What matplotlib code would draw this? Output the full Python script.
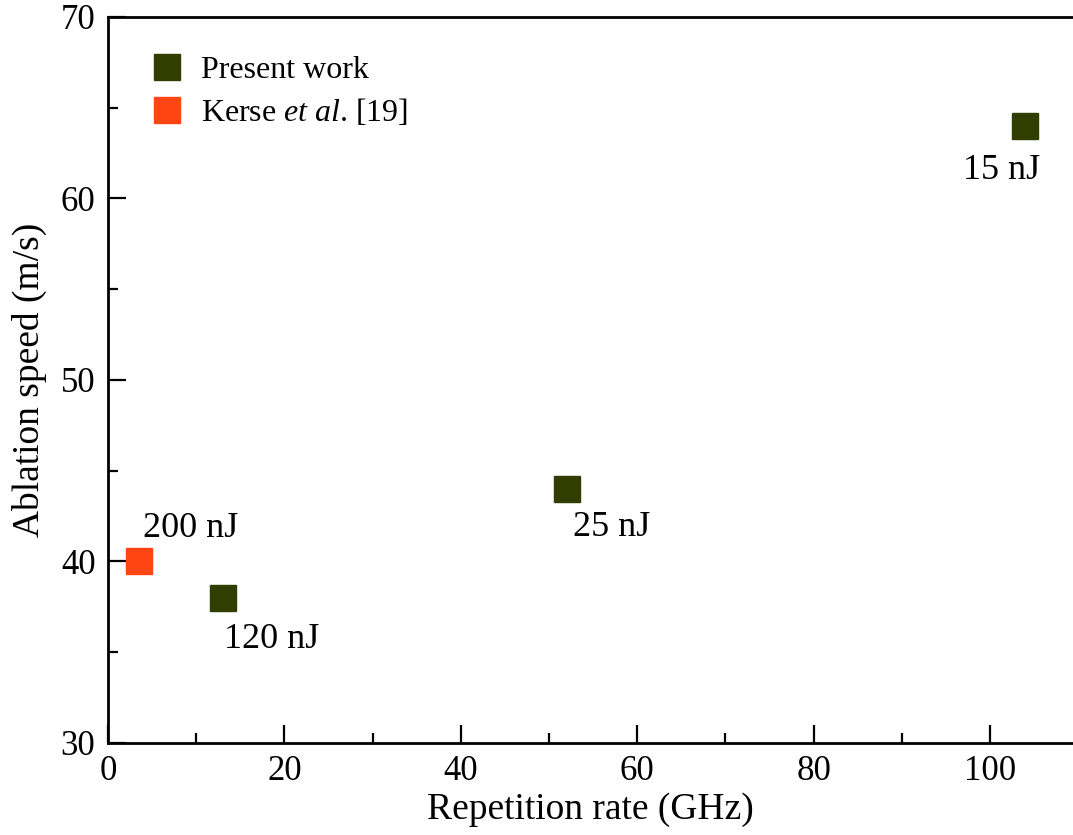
import matplotlib
matplotlib.use("Agg")
import matplotlib.pyplot as plt
from matplotlib.ticker import MultipleLocator

plt.rcParams['font.family'] = ['Liberation Serif', 'DejaVu Serif']
plt.rcParams['mathtext.fontset'] = 'custom'
plt.rcParams['mathtext.rm'] = 'Liberation Serif'
plt.rcParams['mathtext.it'] = 'Liberation Serif:italic'

# Data
present_rate = [13, 52, 104]
present_speed = [38, 44, 64]
present_labels = ["120 nJ", "25 nJ", "15 nJ"]
kerse_rate = [3.5]
kerse_speed = [40]
kerse_labels = ["200 nJ"]

present_color = "#323d00"
kerse_color = "#ff4512"

fig = plt.figure(figsize=(10.73, 8.35), dpi=100)
ax = fig.add_axes([108/1073, 92/835, 1 - 108/1073, 726/835])

ax.plot(present_rate, present_speed, linestyle='none', marker='s', markersize=19,
        color=present_color, label='Present work')
ax.plot(kerse_rate, kerse_speed, linestyle='none', marker='s', markersize=19,
        color=kerse_color, label=r'Kerse $\it{et\ al}$. [19]')

offsets_present = [(35, -30), (32, -28), (-17, -32)]
for x, y, t, off in zip(present_rate, present_speed, present_labels, offsets_present):
    ax.annotate(t, (x, y), xytext=off, textcoords='offset points',
                ha='center', va='center', fontsize=26)
for x, y, t in zip(kerse_rate, kerse_speed, kerse_labels):
    ax.annotate(t, (x, y), xytext=(37, 24), textcoords='offset points',
                ha='center', va='center', fontsize=26)

ax.set_xlim(0, 109.4)
ax.set_ylim(30, 70)
ax.xaxis.set_major_locator(MultipleLocator(20))
ax.xaxis.set_minor_locator(MultipleLocator(10))
ax.yaxis.set_major_locator(MultipleLocator(10))
ax.yaxis.set_minor_locator(MultipleLocator(5))
ax.tick_params(which='major', direction='in', length=13, width=1.6, labelsize=25,
               top=False, right=False)
ax.tick_params(axis='x', which='major', pad=9)
ax.tick_params(axis='y', which='major', pad=9)
ax.tick_params(which='minor', direction='in', length=7, width=1.6,
               top=False, right=False)
for s in ['left', 'bottom', 'top']:
    ax.spines[s].set_linewidth(2)
ax.spines['right'].set_visible(False)

ax.set_xlabel('Repetition rate (GHz)', fontsize=27, labelpad=3)
ax.set_ylabel('Ablation speed (m/s)', fontsize=27, labelpad=10)

leg = ax.legend(loc='upper left', bbox_to_anchor=(0.0, 0.995), frameon=False,
                fontsize=23, handletextpad=0.3, borderpad=0.6, labelspacing=0.38,
                handlelength=1.5)

fig.savefig('out.png', dpi=100)
